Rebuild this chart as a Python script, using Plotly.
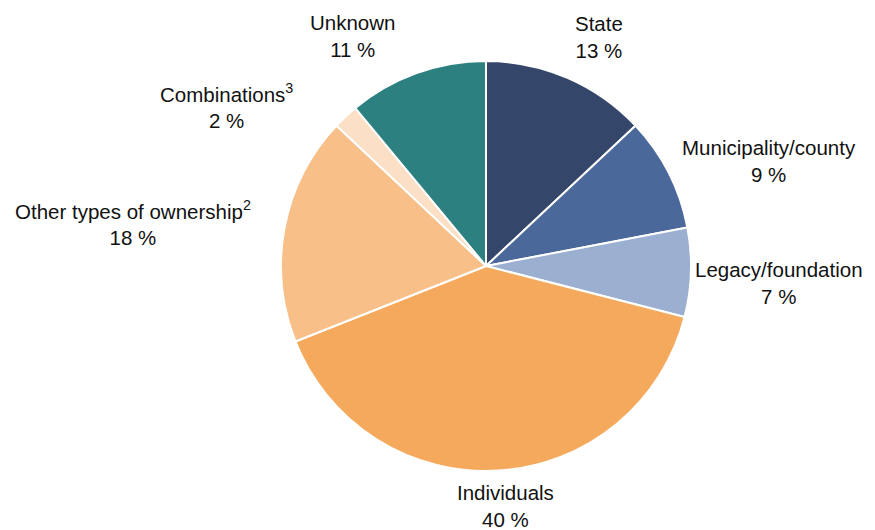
import numpy as np
import plotly.graph_objects as go

labels = ["State", "Municipality/county", "Legacy/foundation", "Individuals",
          "Other types of ownership<sup>2</sup>", "Combinations<sup>3</sup>", "Unknown"]
values = [13, 9, 7, 40, 18, 2, 11]
colors = ["#34466A", "#4A6899", "#9BAFD0", "#F5A95C", "#F8C088", "#FBE0C6", "#2C807F"]

# small pixel nudges for the outside labels (x right, y up)
label_nudge = [(-8, 8), (-10, 13), (-21, -2), (-2, 15), (-25, 10), (-48, -20), (-22, 4)]

W, H = 875, 530
CX, CY, R = 486, 266, 205
FIX = 8  # plotly draws the pie slightly off the domain centre

fig = go.Figure(go.Pie(
    values=values,
    labels=labels,
    sort=False,
    direction="clockwise",
    rotation=0,
    marker=dict(colors=colors, line=dict(color="white", width=2)),
    textinfo="none",
    hoverinfo="label+percent",
    domain=dict(x=[(CX - FIX - R) / W, (CX - FIX + R) / W],
                y=[1 - (CY - FIX + R) / H, 1 - (CY - FIX - R) / H]),
    showlegend=False,
))

# outside labels, placed along each slice's mid angle
cum = np.cumsum(values)
mid = (cum - np.array(values) / 2) / cum[-1] * 2 * np.pi
for lab, v, a, (nx, ny) in zip(labels, values, mid, label_nudge):
    sx, sy = np.sin(a), -np.cos(a)
    px = CX + (R + 15) * sx
    py = CY + (R + 15) * sy
    xa = "left" if sx > 0.3 else ("right" if sx < -0.3 else "center")
    ya = "bottom" if sy < -0.5 else ("top" if sy > 0.5 else "middle")
    fig.add_annotation(
        x=px / W, y=1 - py / H, xref="paper", yref="paper",
        xshift=nx, yshift=ny,
        text=f"{lab}<br>{v} %", showarrow=False,
        xanchor=xa, yanchor=ya, align="center",
        font=dict(family="Liberation Sans, Arial", size=20.5, color="#111"),
    )

fig.update_layout(
    width=W, height=H,
    margin=dict(l=0, r=0, t=0, b=0),
    paper_bgcolor="white",
    plot_bgcolor="white",
)

fig.write_html("out.html")
